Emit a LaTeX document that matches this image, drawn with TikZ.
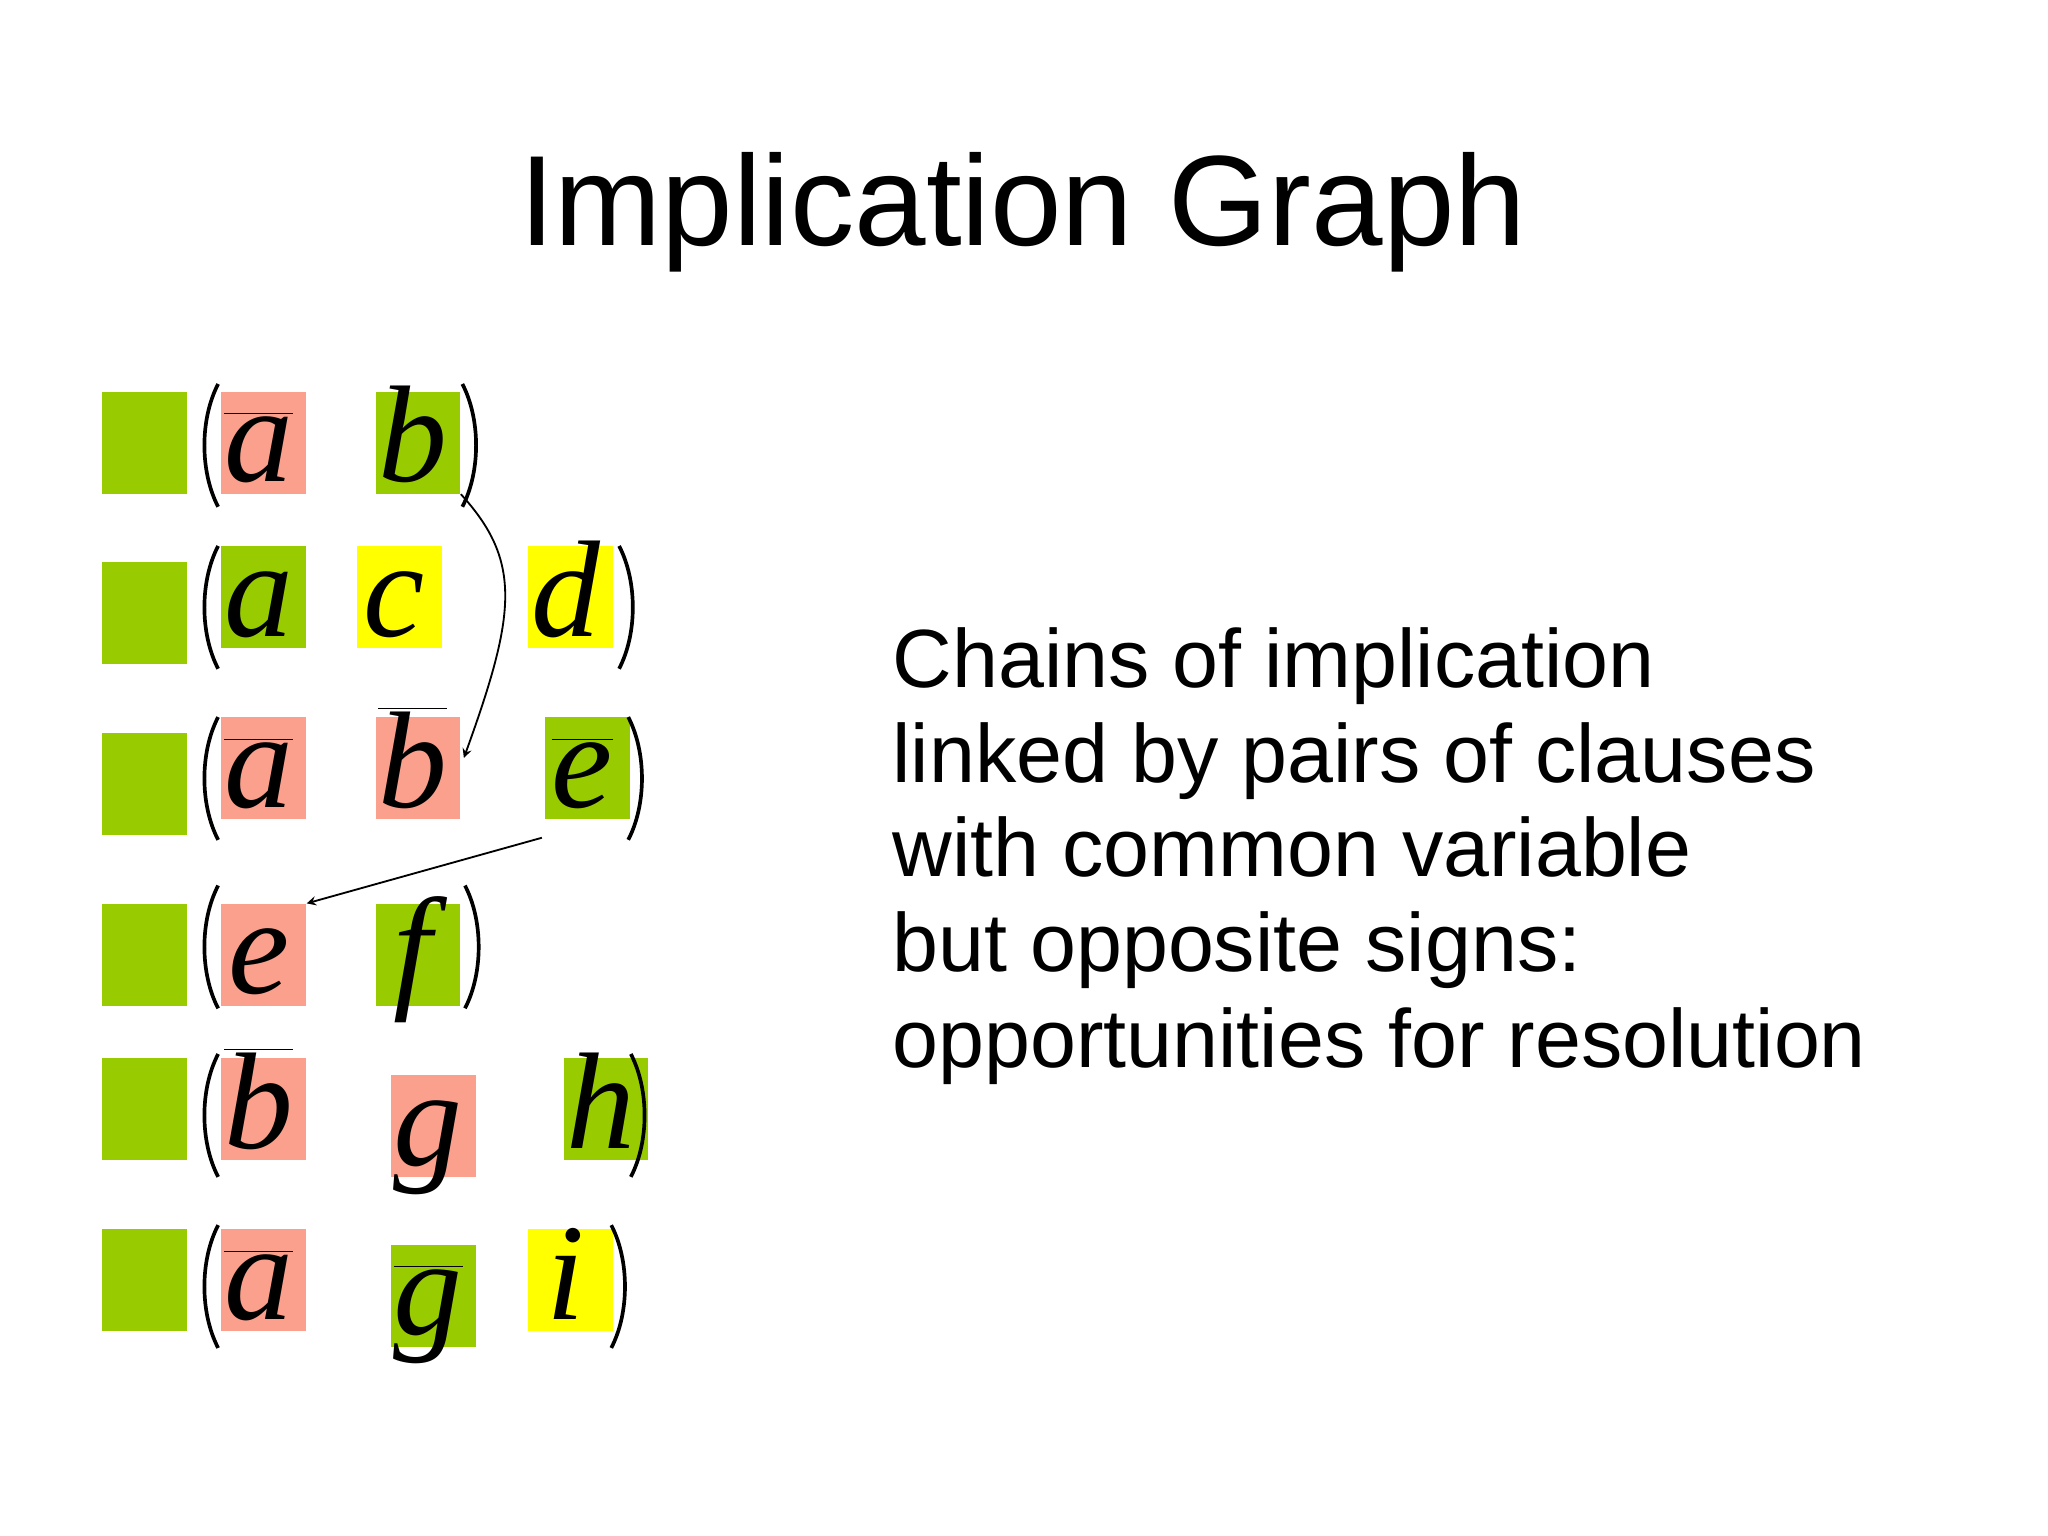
\documentclass[tikz,border=0pt]{standalone}
\usepackage{fontspec}
\setmainfont{Liberation Sans}
\newfontfamily\tms{Liberation Serif}
\definecolor{gr}{RGB}{153,204,0}
\definecolor{rd}{RGB}{250,160,140}
\definecolor{yl}{RGB}{255,255,0}
\newcommand{\ol}[1]{\ensuremath{\overline{\hbox{#1}}}}
\begin{document}
\begin{tikzpicture}[x=0.02cm,y=-0.02cm,
 bx/.style={fill=#1,minimum width=1.3cm,minimum height=1.56cm,inner sep=0,draw=none},
 lt/.style={font=\tms\itshape\fontsize{60}{62}\selectfont,inner sep=0},
 par/.style={line width=1.6pt},
 body/.style={anchor=base west,font=\fontsize{36}{40}\selectfont,inner sep=0}]
\useasboundingbox (0,0) rectangle (1568,1176);
\node[font=\fontsize{56}{60}\selectfont,anchor=base] (title) at (783,188) {Implication Graph};
\foreach \y/\n in {339/1,469/2,600/3,731/4,849/5,980/6}
  \node[bx=gr] (s\n) at (110.5,\y) {};
\foreach \nm/\x/\y/\c/\l in {
 a1/202/339/rd/{\ol{a}}, b1/320/339/gr/{b},
 a2/202/457/gr/{a}, c2/306/457/yl/{c}, d2/437/457/yl/{d},
 a3/202/588/rd/{\ol{a}}, b3/320/588/rd/{\ol{b}}, e3/450/588/gr/{\ol{e}},
 e4/202/731/rd/{e}, f4/320/731/gr/{f},
 b5/202/849/rd/{\ol{b}}, g5/332/862/rd/{g}, h5/464/849/gr/{h},
 a6/202/980/rd/{\ol{a}}, g6/332/992/gr/{\ol{g}}, i6/437/980/yl/{i}}
 {\node[bx=\c] (\nm) at (\x,\y) {};
  \node[lt,anchor=base] (L\nm) at (\x-4,\y+30) {\l};}
\foreach \y/\r/\n in {341/358/1,465/478/2,596/485/3,725/360/4,854/487/5,985/472/6}{
 \coordinate (po\n) at (163,\y);
 \coordinate (pc\n) at (\r,\y);
 \draw[par] ([shift={(4,-47)}]po\n) .. controls ([shift={(-10,-20)}]po\n) and ([shift={(-10,20)}]po\n) .. ([shift={(4,47)}]po\n);
 \draw[par] ([shift={(-4,-47)}]pc\n) .. controls ([shift={(10,-20)}]pc\n) and ([shift={(10,20)}]pc\n) .. ([shift={(-4,47)}]pc\n);
}
\draw[-stealth,line width=0.8pt] (b1.south east) .. controls (400,430) and (395,470) .. ([xshift=20,yshift=-18]b3.north);
\draw[-stealth,line width=0.8pt] ([xshift=-20,yshift=-8]e3.south) -- (e4.north east);
\node[body] (t1) at (683,526) {Chains of implication};
\node[body] (t2) at (683,599) {linked by pairs of clauses};
\node[body] (t3) at (683,671) {with common variable};
\node[body] (t4) at (683,744) {but opposite signs:};
\node[body] (t5) at (683,817) {opportunities for resolution};
\end{tikzpicture}
\end{document}
